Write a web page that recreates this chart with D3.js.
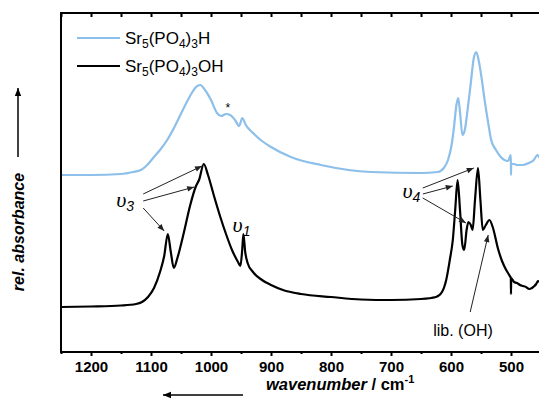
<!DOCTYPE html>
<html>
<head>
<meta charset="utf-8">
<script src="https://cdn.jsdelivr.net/npm/d3@7"></script>
<style>
  html, body { margin: 0; padding: 0; background: #fff; overflow: hidden; }
  svg { display: block; font-family: "Liberation Sans", Arial, sans-serif; }
</style>
</head>
<body>
<div id="chart"></div>
<script>
// wavenumber (cm-1) and relative absorbance (arbitrary units)
var wnOH  = [1250,1200,1150,1125,1115,1105,1095,1085,1078,1072,1067,1062,1056,1045,1035,1025,1020,1012,1005,995,985,975,965,955,951,948,946,943,939,930,915,900,880,850,800,750,700,650,625,615,608,602,597,593,589,585,581,578,574,571,567,564,560,555,551,547,542,536,530,522,515,508,502,500.3,500,499.7,495,490,485,480,475,470,465,461,458,455,450,440,430];
var absOH = [0.45,0.455,0.465,0.48,0.50,0.55,0.64,0.80,0.96,1.18,1.00,0.84,0.94,1.20,1.46,1.66,1.72,1.88,1.77,1.56,1.36,1.18,1.02,0.90,0.86,1.02,1.18,1.00,0.89,0.80,0.72,0.67,0.62,0.58,0.55,0.525,0.52,0.53,0.55,0.60,0.72,0.92,1.12,1.42,1.72,1.42,1.07,1.02,1.22,1.30,1.27,1.22,1.52,1.84,1.52,1.22,1.27,1.32,1.24,1.04,0.91,0.82,0.76,0.74,0.58,0.74,0.70,0.69,0.67,0.66,0.65,0.63,0.64,0.66,0.68,0.71,0.69,0.68,0.67];

var wnH  = [1250,1200,1150,1130,1117,1108,1095,1085,1073,1060,1047,1032,1025,1018,1010,1000,990,983,975,968,960,953,948,942,930,915,900,867,817,733,650,622,612,605,599,595,591,588,585,581,577,572,567,562,558,554,549,544,538,533,525,517,505,500.3,500,499.7,495,490,480,470,462,456,452,440,430];
var absH = [1.77,1.77,1.78,1.80,1.82,1.86,1.95,2.02,2.12,2.26,2.42,2.59,2.65,2.67,2.62,2.52,2.39,2.36,2.38,2.37,2.32,2.26,2.34,2.27,2.19,2.11,2.05,1.95,1.87,1.80,1.79,1.80,1.84,1.92,2.07,2.25,2.47,2.54,2.40,2.17,2.22,2.44,2.69,2.94,3.00,2.92,2.74,2.52,2.29,2.12,2.02,1.95,1.91,1.97,1.77,1.88,1.88,1.87,1.87,1.89,1.92,1.97,1.94,1.92,1.92];

var seriesNames  = ["Sr\u2085(PO\u2084)\u2083H", "Sr\u2085(PO\u2084)\u2083OH"];
var seriesColors = ["#8cbfe9", "#000000"];

var majorTicks = [1200,1100,1000,900,800,700,600,500];
var minorTicks = [1250,1150,1050,950,850,750,650,550,450];

// annotation anchors (wavenumber, absorbance)
var nu3Label  = {wn: 1158, a: 1.45};
var nu3Arrows = [
  {from: [1113, 1.58], to: [1015, 1.86]},
  {from: [1113, 1.51], to: [1028, 1.65]},
  {from: [1113, 1.44], to: [1078, 1.21]}
];
var nu1Label  = {wn: 964, a: 1.20};
var nu4Label  = {wn: 681, a: 1.54};
var nu4Arrows = [
  {from: [647, 1.64], to: [562, 1.84]},
  {from: [647, 1.58], to: [597, 1.66]},
  {from: [647, 1.54], to: [575, 1.29]}
];
var libLabel  = {wn: 580, a: 0.16};
var libArrow  = {from: [568, 0.40], to: [538, 1.17]};
var starLabel = {wn: 972, a: 2.40};

var width = 539, height = 402;
var plotLeft = 61, plotTop = 13, plotBottom = 352;

var svg = d3.select("#chart").append("svg")
            .attr("width", width)
            .attr("height", height);

var defs = svg.append("defs");
defs.append("marker")
    .attr("id", "head")
    .attr("viewBox", "0 0 10 10")
    .attr("refX", 10).attr("refY", 5)
    .attr("markerWidth", 9).attr("markerHeight", 7)
    .attr("markerUnits", "userSpaceOnUse")
    .attr("orient", "auto")
  .append("path")
    .attr("d", "M0,1 L10,5 L0,9 Z")
    .attr("fill", "#222");
defs.append("marker")
    .attr("id", "headBig")
    .attr("viewBox", "0 0 10 10")
    .attr("refX", 10).attr("refY", 5)
    .attr("markerWidth", 10).attr("markerHeight", 8)
    .attr("markerUnits", "userSpaceOnUse")
    .attr("orient", "auto")
  .append("path")
    .attr("d", "M0,1 L10,5 L0,9 Z")
    .attr("fill", "#000");

var x = d3.scaleLinear().domain([1250, 400]).range([plotLeft, plotLeft + 850 * 0.6]);
var y = d3.scaleLinear().domain([0, 3.39]).range([plotBottom, plotTop]);

var line = d3.line()
             .x(d => x(d[0]))
             .y(d => y(d[1]))
             .curve(d3.curveMonotoneX);

// spectra
svg.append("path")
   .datum(d3.zip(wnH, absH))
   .attr("d", line)
   .attr("fill", "none")
   .attr("stroke", seriesColors[0])
   .attr("stroke-width", 2.2)
   .attr("stroke-linejoin", "round");

svg.append("path")
   .datum(d3.zip(wnOH, absOH))
   .attr("d", line)
   .attr("fill", "none")
   .attr("stroke", seriesColors[1])
   .attr("stroke-width", 2.2)
   .attr("stroke-linejoin", "round");

// axes
var xBottom = d3.axisBottom(x).tickValues(majorTicks).tickSize(4).tickFormat(d3.format("d"));
var gx = svg.append("g").attr("transform", "translate(0," + plotBottom + ")").call(xBottom);
gx.select(".domain").remove();
gx.selectAll(".tick line").attr("stroke-width", 2);
gx.selectAll(".tick text")
  .attr("y", 9)
  .attr("dy", "0.71em")
  .attr("font-size", 15)
  .attr("font-weight", "bold")
  .attr("font-family", "Liberation Sans, Arial, sans-serif")
  .attr("fill", "#000");

var gxm = svg.append("g").attr("transform", "translate(0," + plotBottom + ")")
             .call(d3.axisBottom(x).tickValues(minorTicks).tickSize(2).tickFormat(""));
gxm.select(".domain").remove();
gxm.selectAll(".tick line").attr("stroke-width", 2);

var gxt = svg.append("g").attr("transform", "translate(0," + plotTop + ")")
             .call(d3.axisTop(x).tickValues(majorTicks.concat(minorTicks)).tickSize(-4).tickFormat(""));
gxt.select(".domain").remove();
gxt.selectAll(".tick line").attr("stroke-width", 2);

// frame
svg.append("path")
   .attr("d", "M" + x(400) + "," + plotTop + "H" + plotLeft + "V" + plotBottom + "H" + x(400))
   .attr("fill", "none")
   .attr("stroke", "#000")
   .attr("stroke-width", 2);

// legend
var legend = svg.append("g");
seriesNames.forEach(function(name, i){
  var ly = 38 + i * 28;
  legend.append("line")
        .attr("x1", 77).attr("x2", 120)
        .attr("y1", ly).attr("y2", ly)
        .attr("stroke", seriesColors[i])
        .attr("stroke-width", 2.2);
  var t = legend.append("text")
                .attr("x", 125).attr("y", ly + 6)
                .attr("font-size", 17)
                .attr("fill", "#000");
  var parts = i === 0 ? [["Sr",0],["5",1],["(PO",0],["4",1],[")",0],["3",1],["H",0]]
                      : [["Sr",0],["5",1],["(PO",0],["4",1],[")",0],["3",1],["OH",0]];
  var prevSub = 0;
  parts.forEach(function(p){
    t.append("tspan")
     .attr("font-size", p[1] ? 12 : 17)
     .attr("dy", p[1] === prevSub ? 0 : (p[1] ? 4 : -4))
     .text(p[0]);
    prevSub = p[1];
  });
});

// axis titles
var yt = svg.append("g").attr("transform", "translate(24," + 232 + ") rotate(-90)");
yt.append("text")
  .attr("text-anchor", "middle")
  .attr("font-size", 16)
  .attr("font-weight", "bold")
  .attr("font-style", "italic")
  .text("rel. absorbance");
svg.append("line")
   .attr("x1", 18).attr("x2", 18)
   .attr("y1", 157).attr("y2", 88)
   .attr("stroke", "#000").attr("stroke-width", 1.5)
   .attr("marker-end", "url(#headBig)");

var xt = svg.append("text")
            .attr("x", 266).attr("y", 390)
            .attr("font-size", 16.5)
            .attr("font-weight", "bold");
xt.append("tspan").attr("font-style", "italic").text("wavenumber");
xt.append("tspan").text("  / cm");
xt.append("tspan").attr("font-size", 11).attr("dy", -7).text("-1");
svg.append("line")
   .attr("x1", 243).attr("x2", 163)
   .attr("y1", 395).attr("y2", 395)
   .attr("stroke", "#000").attr("stroke-width", 1.5)
   .attr("marker-end", "url(#headBig)");

// annotations
function nuLabel(pos, sub){
  var t = svg.append("text")
             .attr("x", x(pos.wn)).attr("y", y(pos.a))
             .attr("fill", "#000");
  t.append("tspan")
   .attr("font-family", "Liberation Serif, Times New Roman, serif")
   .attr("font-style", "italic")
   .attr("font-size", 22)
   .text("\u03c5");
  t.append("tspan")
   .attr("font-style", "italic")
   .attr("font-size", 14)
   .attr("dy", 4)
   .text(sub);
}
function arrow(a){
  svg.append("line")
     .attr("x1", x(a.from[0])).attr("y1", y(a.from[1]))
     .attr("x2", x(a.to[0])).attr("y2", y(a.to[1]))
     .attr("stroke", "#222")
     .attr("stroke-width", 1)
     .attr("marker-end", "url(#head)");
}

nuLabel(nu3Label, "3");
nu3Arrows.forEach(arrow);
nuLabel(nu1Label, "1");
nuLabel(nu4Label, "4");
nu4Arrows.forEach(arrow);
arrow(libArrow);
svg.append("text")
   .attr("x", x(libLabel.wn)).attr("y", y(libLabel.a))
   .attr("text-anchor", "middle")
   .attr("font-size", 16)
   .text("lib. (OH)");
svg.append("text")
   .attr("x", x(starLabel.wn)).attr("y", y(starLabel.a))
   .attr("text-anchor", "middle")
   .attr("font-size", 12)
   .text("*");
</script>
</body>
</html>
